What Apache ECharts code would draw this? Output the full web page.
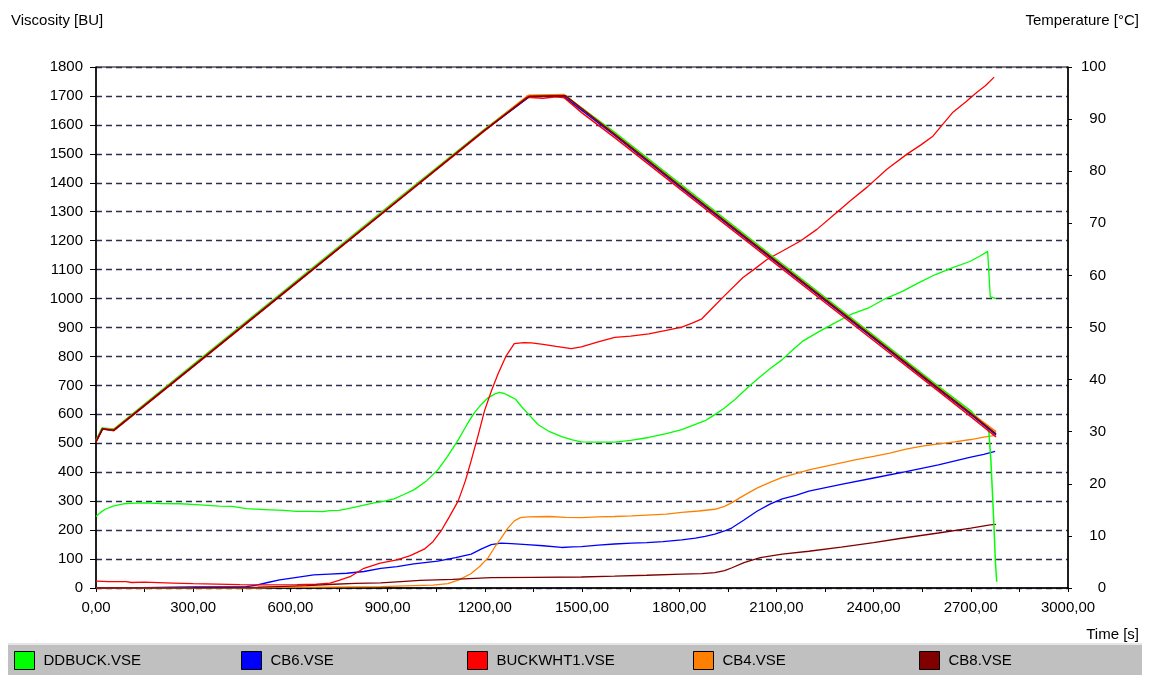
<!DOCTYPE html>
<html>
<head>
<meta charset="utf-8">
<title>Viscosity / Temperature</title>
<script src="https://cdn.jsdelivr.net/npm/echarts@6/dist/echarts.min.js"></script>
<style>
  html, body { margin: 0; padding: 0; background: #ffffff; }
  #chart { width: 1149px; height: 675px; }
</style>
</head>
<body>
<div id="chart"></div>
<script>
// Sample names (one viscosity curve and one temperature curve per sample)
const sampleNames = ['DDBUCK.VSE', 'CB6.VSE', 'BUCKWHT1.VSE', 'CB4.VSE', 'CB8.VSE'];
const sampleColors = ['#00ff00', '#0000ff', '#ff0000', '#ff8000', '#800000'];

// Viscosity [BU] over time [s]
const viscDDBUCK = [[0,247],[15,262],[30,273],[55,284],[85,291],[120,293],[155,294],[200,292],[260,291],[310,288],[380,283],[420,282],[464,274],[520,271],[580,268],[619,265],[660,265],[700,264],[722,267],[750,268],[774,273],[810,282],[858,294],[890,300],[920,308],[950,323],[981,339],[1020,370],[1055,408],[1085,455],[1118,512],[1145,565],[1168,606],[1190,635],[1210,657],[1230,670],[1245,676],[1260,672],[1275,664],[1295,652],[1313,627],[1340,594],[1365,564],[1400,540],[1437,523],[1470,512],[1498,505],[1550,504],[1601,504],[1650,510],[1706,520],[1760,533],[1808,547],[1850,565],[1880,578],[1910,599],[1940,622],[1972,651],[2015,696],[2050,730],[2077,755],[2118,789],[2150,822],[2180,852],[2230,885],[2282,917],[2330,945],[2387,969],[2437,1000],[2489,1025],[2540,1055],[2591,1083],[2640,1105],[2697,1128],[2730,1148],[2752,1163],[2756,1166],[2760,1007],[2765,1003],[2778,1000]];
const viscCB6 = [[0,0],[100,0],[240,3],[300,4],[400,4],[464,5],[495,10],[530,19],[567,28],[620,37],[672,45],[720,48],[774,51],[827,57],[879,68],[929,74],[981,83],[1055,93],[1110,105],[1158,117],[1190,135],[1220,150],[1250,155],[1282,153],[1330,150],[1380,146],[1437,140],[1470,142],[1498,143],[1550,148],[1600,152],[1653,155],[1700,157],[1750,160],[1808,166],[1850,172],[1880,178],[1910,186],[1940,197],[1963,208],[2000,235],[2040,265],[2080,290],[2118,308],[2160,320],[2200,335],[2300,358],[2400,380],[2500,402],[2600,425],[2700,452],[2740,462],[2775,472]];
const viscBUCKWHT1 = [[0,24],[40,22],[93,22],[110,19],[150,20],[237,17],[300,15],[444,12],[500,11],[620,12],[680,13],[722,17],[750,26],[784,39],[827,68],[877,86],[929,97],[970,112],[1013,134],[1040,160],[1065,197],[1090,245],[1118,301],[1140,370],[1158,440],[1180,530],[1199,612],[1220,680],[1241,740],[1265,800],[1291,844],[1320,848],[1344,847],[1380,842],[1420,835],[1467,827],[1498,833],[1550,850],[1601,866],[1650,870],[1706,878],[1760,890],[1808,901],[1840,915],[1870,930],[1904,969],[1940,1010],[1997,1073],[2030,1100],[2071,1135],[2120,1165],[2173,1198],[2225,1239],[2287,1298],[2330,1340],[2380,1385],[2441,1447],[2503,1499],[2545,1530],[2583,1561],[2645,1644],[2685,1680],[2719,1713],[2745,1735],[2772,1765]];
const viscCB4 = [[0,0],[500,0],[560,2],[700,3],[879,5],[980,8],[1040,10],[1086,15],[1120,28],[1158,50],[1185,75],[1210,104],[1230,140],[1251,173],[1270,205],[1291,232],[1310,243],[1334,246],[1400,247],[1450,244],[1498,243],[1550,246],[1600,247],[1653,249],[1700,252],[1760,255],[1808,261],[1860,266],[1910,272],[1940,282],[1963,295],[2000,320],[2040,345],[2080,365],[2118,382],[2160,395],[2200,408],[2250,420],[2300,432],[2350,444],[2400,455],[2450,466],[2500,480],[2550,490],[2600,498],[2650,505],[2700,513],[2740,521],[2760,525],[2775,527]];
const viscCB8 = [[0,0],[300,1],[500,3],[560,5],[650,8],[734,13],[800,16],[879,18],[941,22],[1000,26],[1100,30],[1220,36],[1350,37],[1498,38],[1600,41],[1700,44],[1808,48],[1870,50],[1910,53],[1940,60],[1963,70],[2000,88],[2050,105],[2118,117],[2200,127],[2300,141],[2400,157],[2481,171],[2600,190],[2700,207],[2760,218],[2778,220]];

// Temperature [°C] over time [s]
const tempDDBUCK = [[0,28.3],[18,30.7],[55,30.5],[300,42.9],[600,58.0],[900,73.1],[1200,88.1],[1335,94.5],[1445,94.6],[1600,87.5],[1800,77.7],[2100,63.1],[2400,48.5],[2600,38.7],[2700,34.0],[2752,30.6],[2756,29.8],[2762,24.5],[2770,14.0],[2776,5.0],[2780,1.2]];
const tempCB6 = [[0,28.1],[20,30.5],[55,30.3],[300,42.6],[600,57.7],[900,72.8],[1200,87.9],[1340,94.4],[1440,94.5],[1600,86.9],[1800,77.1],[2100,62.5],[2400,47.9],[2600,38.1],[2700,33.3],[2778,29.4]];
const tempBUCKWHT1 = [[0,28.0],[20,30.6],[55,30.2],[300,42.5],[600,57.6],[900,72.7],[1200,87.8],[1330,94.2],[1380,94.0],[1420,94.3],[1445,94.1],[1500,91.2],[1600,86.5],[1800,76.7],[2100,62.1],[2400,47.5],[2600,37.8],[2700,32.9],[2778,29.0]];
const tempCB4 = [[0,28.2],[20,30.6],[55,30.4],[300,42.7],[600,57.8],[900,72.9],[1200,88.0],[1335,94.6],[1445,94.7],[1600,87.2],[1800,77.4],[2100,62.8],[2400,48.2],[2600,38.4],[2700,33.6],[2778,30.0]];
const tempCB8 = [[0,28.1],[20,30.5],[55,30.3],[300,42.6],[600,57.7],[900,72.8],[1200,87.9],[1338,94.4],[1448,94.5],[1600,87.1],[1800,77.3],[2100,62.7],[2400,48.1],[2600,38.3],[2700,33.5],[2778,29.6]];

// Axis ranges
const timeMin = 0, timeMax = 3000, timeTick = 150, timeLabelStep = 300;
const viscMin = 0, viscMax = 1800, viscTick = 100;
const tempMin = 0, tempMax = 100, tempTick = 10;

const viscData = [viscDDBUCK, viscCB6, viscBUCKWHT1, viscCB4, viscCB8];
const tempData = [tempDDBUCK, tempCB6, tempBUCKWHT1, tempCB4, tempCB8];
// drawing order of the temperature curves (they overlap almost exactly)
const tempOrder = [0, 1, 3, 2, 4];

const FONT = 'Liberation Sans, Arial, sans-serif';
const FS = 15;

function lineSeries(name, color, data, yAxisIndex, width) {
  return {
    type: 'line',
    name: name,
    data: data,
    yAxisIndex: yAxisIndex,
    showSymbol: false,
    symbol: 'none',
    smooth: false,
    silent: true,
    itemStyle: { color: color },
    lineStyle: { color: color, width: width },
    emphasis: { disabled: true }
  };
}

const series = [];
sampleNames.forEach((n, i) => series.push(lineSeries(n, sampleColors[i], viscData[i], 0, 1.3)));
tempOrder.forEach(i => series.push(lineSeries(sampleNames[i], sampleColors[i], tempData[i], 1, 1.5)));

const legendLefts = [14, 241, 467, 693, 919];
const legends = sampleNames.map((n, i) => ({
  left: legendLefts[i],
  top: 651,
  padding: 0,
  orient: 'horizontal',
  icon: 'rect',
  itemWidth: 20,
  itemHeight: 18,
  itemGap: 0,
  selectedMode: false,
  data: [n],
  itemStyle: { borderColor: '#000000', borderWidth: 1 },
  textStyle: { fontFamily: FONT, fontSize: FS, color: '#000000', padding: [0, 0, 0, 4] }
}));

const plainNumber = v => String(v);

const chart = echarts.init(document.getElementById('chart'), null, { renderer: 'canvas' });
chart.setOption({
  animation: false,
  backgroundColor: '#ffffff',
  textStyle: { fontFamily: FONT },
  grid: {
    left: 96, right: 81, top: 67, bottom: 87,
    show: true, borderColor: '#000000', borderWidth: 1, backgroundColor: '#ffffff'
  },
  legend: legends,
  graphic: [
    { type: 'rect', z: -1, shape: { x: 8, y: 645, width: 1134, height: 30 }, style: { fill: '#c0c0c0' } },
    { type: 'line', z: -1, shape: { x1: 8, y1: 644, x2: 1142, y2: 644 }, style: { stroke: '#e6e6e6', lineWidth: 2 } },
    { type: 'text', left: 11, top: 13, style: { text: 'Viscosity [BU]', font: FS + 'px ' + FONT, fill: '#000000' } },
    { type: 'text', right: 10, top: 13, style: { text: 'Temperature [°C]', font: FS + 'px ' + FONT, fill: '#000000' } },
    { type: 'text', right: 10, top: 627, style: { text: 'Time [s]', font: FS + 'px ' + FONT, fill: '#000000' } }
  ],
  xAxis: {
    type: 'value',
    min: timeMin, max: timeMax, interval: timeTick,
    axisLine: { lineStyle: { color: '#000000', width: 1.5 } },
    axisTick: { show: true, length: 4, inside: false, lineStyle: { color: '#000000' } },
    splitLine: { show: false },
    axisLabel: {
      margin: 12, fontSize: FS, fontFamily: FONT, color: '#000000',
      formatter: v => (v % timeLabelStep === 0 ? v.toFixed(2).replace('.', ',') : '')
    }
  },
  yAxis: [
    {
      type: 'value', position: 'left',
      min: viscMin, max: viscMax, interval: viscTick,
      axisLine: { show: true, lineStyle: { color: '#000000', width: 1.5 } },
      axisTick: { show: true, length: 6, lineStyle: { color: '#000000' } },
      splitLine: { show: true, lineStyle: { color: '#2e2e4e', width: 1.4, type: [6, 4] } },
      axisLabel: { margin: 13, fontSize: FS, fontFamily: FONT, color: '#000000', formatter: plainNumber }
    },
    {
      type: 'value', position: 'right',
      min: tempMin, max: tempMax, interval: tempTick,
      axisLine: { show: true, lineStyle: { color: '#000000', width: 1.5 } },
      axisTick: { show: true, length: 4, lineStyle: { color: '#000000' } },
      splitLine: { show: false },
      axisLabel: { margin: 38, align: 'right', fontSize: FS, fontFamily: FONT, color: '#000000', formatter: plainNumber }
    }
  ],
  series: series
});
</script>
</body>
</html>
